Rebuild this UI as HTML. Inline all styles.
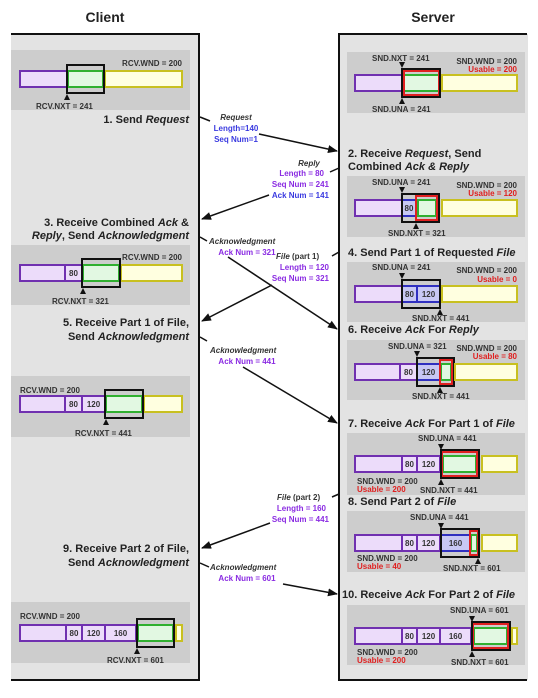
<!DOCTYPE html>
<html><head><meta charset="utf-8"><style>
html,body{margin:0;padding:0;background:#fff;}
svg{display:block;font-family:"Liberation Sans",Arial,sans-serif;}
.t{font-size:8px;font-weight:bold;fill:#333;}
.r{font-size:8px;font-weight:bold;fill:#e02020;}
.s{font-size:11px;font-weight:bold;fill:#222;}
.p{font-size:8px;font-weight:bold;fill:#8a2be2;}
.b{font-size:8px;font-weight:bold;fill:#3a3ae0;}
.i{font-size:8px;font-weight:bold;font-style:italic;fill:#333;}
.pu{fill:#ecdcfa;stroke:#7030b0;stroke-width:2;}
.bl{fill:#c8c8f4;stroke:#3030c0;stroke-width:2;}
.gr{fill:#e2f8e2;stroke:#30b030;stroke-width:2;}
.ye{fill:#ffffe0;stroke:#c8c020;stroke-width:2;}
.rd{fill:none;stroke:#e02020;stroke-width:2;}
.bk{fill:none;stroke:#111;stroke-width:2;}
.pn{fill:#cdcdcd;}
.c{font-size:8px;font-weight:bold;fill:#333;text-anchor:middle;}
.ln{stroke:#111;stroke-width:1.5;fill:none;}
</style></head><body>
<svg width="538" height="698" viewBox="0 0 538 698">
<defs><marker id="a" markerWidth="10" markerHeight="8" refX="9" refY="4" orient="auto" markerUnits="userSpaceOnUse"><path d="M0,0 L10,4 L0,8 z" fill="#111"/></marker></defs>
<text x="105" y="22" font-size="14" font-weight="bold" text-anchor="middle" fill="#222">Client</text>
<text x="433" y="22" font-size="14" font-weight="bold" text-anchor="middle" fill="#222">Server</text>
<!-- client box -->
<rect x="11" y="34" width="188" height="646" fill="#e3e3e3"/>
<path d="M11,34 H199 V680 H11" class="bk"/>
<!-- server box -->
<rect x="339" y="34" width="189" height="646" fill="#e3e3e3"/>
<path d="M527,34 H339 V680 H527" class="bk"/>

<!-- client P1 -->
<rect class="pn" x="11" y="50" width="179" height="60"/>
<text class="t" x="182" y="66" text-anchor="end">RCV.WND = 200</text>
<rect class="pu" x="20" y="71" width="47" height="16"/>
<rect class="gr" x="68" y="71" width="35" height="16"/>
<rect class="ye" x="105" y="71" width="77" height="16"/>
<rect class="bk" x="67" y="65" width="37" height="28"/>
<path d="M64,100 L67,94 L70,100z" fill="#111"/>
<text class="t" x="36" y="109">RCV.NXT = 241</text>
<text class="s" x="189" y="123" text-anchor="end">1. Send <tspan font-style="italic">Request</tspan></text>

<text class="s" x="189" y="226" text-anchor="end">3. Receive Combined <tspan font-style="italic">Ack</tspan> &amp;</text>
<text class="s" x="189" y="239" text-anchor="end"><tspan font-style="italic">Reply</tspan>, Send <tspan font-style="italic">Acknowledgment</tspan></text>
<!-- client P2 -->
<rect class="pn" x="11" y="245" width="179" height="60"/>
<text class="t" x="182" y="260" text-anchor="end">RCV.WND = 200</text>
<rect class="pu" x="20" y="265" width="45" height="16"/>
<rect class="pu" x="65" y="265" width="17" height="16"/><text class="c" x="73.5" y="276">80</text>
<rect class="gr" x="83" y="265" width="36" height="16"/>
<rect class="ye" x="121" y="265" width="61" height="16"/>
<rect class="bk" x="82" y="259" width="38" height="28"/>
<path d="M80,294 L83,288 L86,294z" fill="#111"/>
<text class="t" x="52" y="304">RCV.NXT = 321</text>
<text class="s" x="189" y="326" text-anchor="end">5. Receive Part 1 of File,</text>
<text class="s" x="189" y="340" text-anchor="end">Send <tspan font-style="italic">Acknowledgment</tspan></text>
<!-- client P3 -->
<rect class="pn" x="11" y="376" width="179" height="61"/>
<text class="t" x="20" y="393">RCV.WND = 200</text>
<rect class="pu" x="20" y="396" width="45" height="16"/>
<rect class="pu" x="65" y="396" width="17" height="16"/><text class="c" x="73.5" y="407">80</text>
<rect class="pu" x="82" y="396" width="23" height="16"/><text class="c" x="93.5" y="407">120</text>
<rect class="gr" x="106" y="396" width="36" height="16"/>
<rect class="ye" x="144" y="396" width="38" height="16"/>
<rect class="bk" x="105" y="390" width="38" height="28"/>
<path d="M103,425 L106,419 L109,425z" fill="#111"/>
<text class="t" x="75" y="436">RCV.NXT = 441</text>
<text class="s" x="189" y="552" text-anchor="end">9. Receive Part 2 of File,</text>
<text class="s" x="189" y="566" text-anchor="end">Send <tspan font-style="italic">Acknowledgment</tspan></text>
<!-- client P4 -->
<rect class="pn" x="11" y="602" width="179" height="61"/>
<text class="t" x="20" y="619">RCV.WND = 200</text>
<rect class="pu" x="20" y="625" width="46" height="16"/>
<rect class="pu" x="66" y="625" width="16" height="16"/><text class="c" x="74" y="636">80</text>
<rect class="pu" x="82" y="625" width="23" height="16"/><text class="c" x="93.5" y="636">120</text>
<rect class="pu" x="105" y="625" width="31" height="16"/><text class="c" x="120.5" y="636">160</text>
<rect class="gr" x="138" y="625" width="35" height="16"/>
<rect class="ye" x="176" y="625" width="6" height="16"/>
<rect class="bk" x="137" y="619" width="37" height="28"/>
<path d="M134,654 L137,648 L140,654z" fill="#111"/>
<text class="t" x="107" y="663">RCV.NXT = 601</text>

<!-- server S1 -->
<rect class="pn" x="347" y="52" width="178" height="61"/>
<text class="t" x="372" y="61">SND.NXT = 241</text>
<text class="t" x="517" y="64" text-anchor="end">SND.WND = 200</text>
<text class="r" x="517" y="72" text-anchor="end">Usable = 200</text>
<rect class="pu" x="355" y="75" width="47" height="16"/>
<rect class="gr" x="404" y="75" width="35" height="16"/>
<rect class="rd" x="404" y="71" width="35" height="24"/>
<rect class="bk" x="402" y="69" width="38" height="28"/>
<rect class="ye" x="442" y="75" width="75" height="16"/>
<path d="M399,62 L405,62 L402,68z" fill="#111"/>
<path d="M399,104 L402,98 L405,104z" fill="#111"/>
<text class="t" x="372" y="112">SND.UNA = 241</text>
<text class="s" x="348" y="157">2. Receive <tspan font-style="italic">Request</tspan>, Send</text>
<text class="s" x="348" y="170">Combined <tspan font-style="italic">Ack &amp; Reply</tspan></text>
<!-- S2 -->
<rect class="pn" x="347" y="176" width="178" height="61"/>
<text class="t" x="372" y="185">SND.UNA = 241</text>
<text class="t" x="517" y="188" text-anchor="end">SND.WND = 200</text>
<text class="r" x="517" y="196" text-anchor="end">Usable = 120</text>
<rect class="pu" x="355" y="200" width="47" height="16"/>
<rect class="bl" x="402" y="200" width="14" height="16"/><text class="c" x="409" y="211">80</text>
<rect class="gr" x="418" y="200" width="18" height="16"/>
<rect class="rd" x="416" y="196" width="21" height="24"/>
<rect class="bk" x="402" y="194" width="37" height="28"/>
<rect class="ye" x="442" y="200" width="75" height="16"/>
<path d="M399,187 L405,187 L402,193z" fill="#111"/>
<path d="M413,229 L416,223 L419,229z" fill="#111"/>
<text class="t" x="388" y="236">SND.NXT = 321</text>
<text class="s" x="348" y="256">4. Send Part 1 of Requested <tspan font-style="italic">File</tspan></text>
<!-- S3 -->
<rect class="pn" x="347" y="262" width="178" height="60"/>
<text class="t" x="372" y="270">SND.UNA = 241</text>
<text class="t" x="517" y="273" text-anchor="end">SND.WND = 200</text>
<text class="r" x="517" y="282" text-anchor="end">Usable = 0</text>
<rect class="pu" x="355" y="286" width="47" height="16"/>
<rect class="bl" x="402" y="286" width="15" height="16"/><text class="c" x="409.5" y="297">80</text>
<rect class="bl" x="417" y="286" width="23" height="16"/><text class="c" x="428.5" y="297">120</text>
<rect class="bk" x="402" y="280" width="38" height="28"/>
<rect class="ye" x="442" y="286" width="75" height="16"/>
<path d="M399,273 L405,273 L402,279z" fill="#111"/>
<path d="M437,315 L440,309 L443,315z" fill="#111"/>
<text class="t" x="412" y="321">SND.NXT = 441</text>
<text class="s" x="348" y="333">6. Receive <tspan font-style="italic">Ack</tspan> For <tspan font-style="italic">Reply</tspan></text>
<!-- S4 -->
<rect class="pn" x="347" y="340" width="178" height="60"/>
<text class="t" x="388" y="349">SND.UNA = 321</text>
<text class="t" x="517" y="351" text-anchor="end">SND.WND = 200</text>
<text class="r" x="517" y="359" text-anchor="end">Usable = 80</text>
<rect class="pu" x="355" y="364" width="45" height="16"/>
<rect class="pu" x="400" y="364" width="17" height="16"/><text class="c" x="408.5" y="375">80</text>
<rect class="bl" x="417" y="364" width="23" height="16"/><text class="c" x="428.5" y="375">120</text>
<rect class="gr" x="441" y="364" width="10" height="16"/>
<rect class="rd" x="440" y="360" width="12" height="24"/>
<rect class="bk" x="417" y="358" width="37" height="28"/>
<rect class="ye" x="455" y="364" width="62" height="16"/>
<path d="M414,351 L420,351 L417,357z" fill="#111"/>
<path d="M437,393 L440,387 L443,393z" fill="#111"/>
<text class="t" x="412" y="399">SND.NXT = 441</text>
<text class="s" x="348" y="427">7. Receive <tspan font-style="italic">Ack</tspan> For Part 1 of <tspan font-style="italic">File</tspan></text>
<!-- S5 -->
<rect class="pn" x="347" y="433" width="178" height="62"/>
<text class="t" x="418" y="441">SND.UNA = 441</text>
<rect class="pu" x="355" y="456" width="47" height="16"/>
<rect class="pu" x="402" y="456" width="15" height="16"/><text class="c" x="409.5" y="467">80</text>
<rect class="pu" x="417" y="456" width="23" height="16"/><text class="c" x="428.5" y="467">120</text>
<rect class="gr" x="443" y="456" width="33" height="16"/>
<rect class="rd" x="442" y="452" width="35" height="24"/>
<rect class="bk" x="441" y="450" width="38" height="28"/>
<rect class="ye" x="482" y="456" width="35" height="16"/>
<path d="M438,444 L444,444 L441,450z" fill="#111"/>
<path d="M438,485 L441,479 L444,485z" fill="#111"/>
<text class="t" x="357" y="484">SND.WND = 200</text>
<text class="r" x="357" y="492">Usable = 200</text>
<text class="t" x="420" y="493">SND.NXT = 441</text>
<text class="s" x="348" y="505">8. Send Part 2 of <tspan font-style="italic">File</tspan></text>
<!-- S6 -->
<rect class="pn" x="347" y="511" width="178" height="61"/>
<text class="t" x="410" y="520">SND.UNA = 441</text>
<rect class="pu" x="355" y="535" width="47" height="16"/>
<rect class="pu" x="402" y="535" width="15" height="16"/><text class="c" x="409.5" y="546">80</text>
<rect class="pu" x="417" y="535" width="23" height="16"/><text class="c" x="428.5" y="546">120</text>
<rect class="bl" x="441" y="535" width="29" height="16"/><text class="c" x="455.5" y="546">160</text>
<rect class="gr" x="471" y="535" width="6" height="16"/>
<rect class="rd" x="470" y="531" width="8" height="24"/>
<rect class="bk" x="441" y="529" width="38" height="28"/>
<rect class="ye" x="482" y="535" width="35" height="16"/>
<path d="M438,523 L444,523 L441,529z" fill="#111"/>
<path d="M475,564 L478,558 L481,564z" fill="#111"/>
<text class="t" x="357" y="561">SND.WND = 200</text>
<text class="r" x="357" y="569">Usable = 40</text>
<text class="t" x="443" y="571">SND.NXT = 601</text>
<text class="s" x="342" y="598">10. Receive <tspan font-style="italic">Ack</tspan> For Part 2 of <tspan font-style="italic">File</tspan></text>
<!-- S7 -->
<rect class="pn" x="347" y="605" width="178" height="60"/>
<text class="t" x="450" y="613">SND.UNA = 601</text>
<rect class="pu" x="355" y="628" width="47" height="16"/>
<rect class="pu" x="402" y="628" width="15" height="16"/><text class="c" x="409.5" y="639">80</text>
<rect class="pu" x="417" y="628" width="23" height="16"/><text class="c" x="428.5" y="639">120</text>
<rect class="pu" x="440" y="628" width="31" height="16"/><text class="c" x="455.5" y="639">160</text>
<rect class="gr" x="474" y="628" width="33" height="16"/>
<rect class="rd" x="473" y="624" width="35" height="24"/>
<rect class="bk" x="472" y="622" width="38" height="28"/>
<rect class="ye" x="512" y="628" width="5" height="16"/>
<path d="M469,616 L475,616 L472,622z" fill="#111"/>
<path d="M469,657 L472,651 L475,657z" fill="#111"/>
<text class="t" x="357" y="655">SND.WND = 200</text>
<text class="r" x="357" y="663">Usable = 200</text>
<text class="t" x="451" y="665">SND.NXT = 601</text>

<!-- connectors -->
<path class="ln" d="M200,117 L210,121"/>
<text class="i" x="236" y="120" text-anchor="middle">Request</text>
<text class="b" x="236" y="131" text-anchor="middle">Length=140</text>
<text class="b" x="236" y="142" text-anchor="middle">Seq Num=1</text>
<path class="ln" d="M259,134 L337,151" marker-end="url(#a)"/>

<path class="ln" d="M339,168 L330,172"/>
<text class="i" x="309" y="166" text-anchor="middle">Reply</text>
<text class="p" x="324" y="176" text-anchor="end">Length = 80</text>
<text class="p" x="329" y="187" text-anchor="end">Seq Num = 241</text>
<text class="b" x="329" y="198" text-anchor="end">Ack Num = 141</text>
<path class="ln" d="M269,195 L202,219" marker-end="url(#a)"/>

<path class="ln" d="M200,237 L207,241"/>
<text class="i" x="209" y="244">Acknowledgment</text>
<text class="p" x="247" y="255" text-anchor="middle">Ack Num = 321</text>
<path class="ln" d="M228,257 L337,329" marker-end="url(#a)"/>

<path class="ln" d="M339,252 L332,256"/>
<text class="i" x="276" y="259">File <tspan font-style="normal">(part 1)</tspan></text>
<text class="p" x="329" y="270" text-anchor="end">Length = 120</text>
<text class="p" x="329" y="281" text-anchor="end">Seq Num = 321</text>
<path class="ln" d="M272,285 L202,321" marker-end="url(#a)"/>

<path class="ln" d="M200,337 L207,341"/>
<text class="i" x="210" y="353">Acknowledgment</text>
<text class="p" x="247" y="364" text-anchor="middle">Ack Num = 441</text>
<path class="ln" d="M243,367 L337,423" marker-end="url(#a)"/>

<path class="ln" d="M339,494 L332,497"/>
<text class="i" x="277" y="500">File <tspan font-style="normal">(part 2)</tspan></text>
<text class="p" x="326" y="511" text-anchor="end">Length = 160</text>
<text class="p" x="329" y="522" text-anchor="end">Seq Num = 441</text>
<path class="ln" d="M270,523 L202,548" marker-end="url(#a)"/>

<path class="ln" d="M200,563 L209,567"/>
<text class="i" x="210" y="570">Acknowledgment</text>
<text class="p" x="247" y="581" text-anchor="middle">Ack Num = 601</text>
<path class="ln" d="M283,584 L337,594" marker-end="url(#a)"/>
</svg>
</body></html>
